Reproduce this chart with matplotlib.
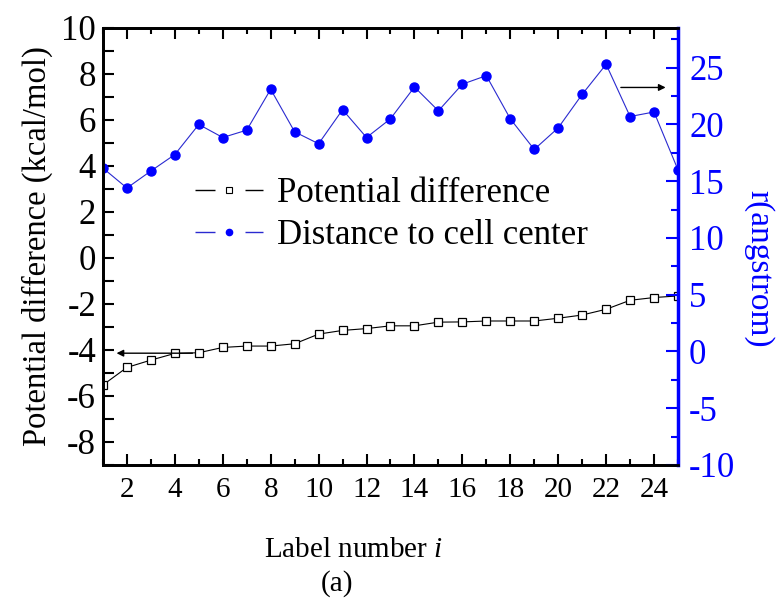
import numpy as np
import matplotlib
matplotlib.use("Agg")
import matplotlib.pyplot as plt
from matplotlib.lines import Line2D
from matplotlib.ticker import MultipleLocator

plt.rcParams['font.family'] = ['Liberation Serif', 'DejaVu Serif']
plt.rcParams['mathtext.fontset'] = 'custom'
plt.rcParams['mathtext.it'] = 'Liberation Serif:italic'
plt.rcParams['lines.scale_dashes'] = False
plt.rcParams['axes.unicode_minus'] = False

label_no = np.arange(1, 26)
pot_diff = [-5.52, -4.76, -4.44, -4.15, -4.12, -3.89, -3.83, -3.83, -3.73, -3.31,
            -3.15, -3.07, -2.95, -2.95, -2.79, -2.78, -2.74, -2.74, -2.74, -2.62,
            -2.48, -2.23, -1.84, -1.72, -1.65]
dist_center = [16.15, 14.4, 15.9, 17.35, 20.0, 18.85, 19.5, 23.1, 19.35, 18.3,
               21.3, 18.85, 20.5, 23.3, 21.2, 23.55, 24.3, 20.5, 17.8, 19.7,
               22.65, 25.3, 20.7, 21.1, 16.0]

blue = '#0000ff'

fig = plt.figure(figsize=(7.76, 6.03), dpi=100)
ax = fig.add_axes([0.1327, 0.2289, 0.741, 0.7247])
ax2 = ax.twinx()

ax.plot(label_no, pot_diff, color='black', lw=0.8, marker='s', ms=5.5,
        mfc='white', mec='black', mew=0.9)
ax2.plot(label_no, dist_center, color='#2a2ad0', lw=0.8, marker='o', ms=6.5,
         mfc=blue, mec=blue)

ax.set_xlim(1, 25)
ax.set_ylim(-9, 10)
ax2.set_ylim(-10, 28.5)

ax.xaxis.set_major_locator(MultipleLocator(2))
ax.xaxis.set_minor_locator(MultipleLocator(1))
ax.yaxis.set_major_locator(MultipleLocator(2))
ax.yaxis.set_minor_locator(MultipleLocator(1))
ax2.yaxis.set_major_locator(MultipleLocator(5))
ax2.yaxis.set_minor_locator(MultipleLocator(2.5))

ax.tick_params(axis='x', which='both', direction='in', top=True, labelsize=21, pad=9)
ax.tick_params(axis='x', which='major', length=8, width=1.5)
ax.tick_params(axis='x', which='minor', length=4, width=1.5)
ax.tick_params(axis='y', which='both', direction='in', right=False, labelsize=25,
               length=8, width=1.5, pad=5)
ax2.tick_params(axis='y', which='major', direction='in', length=9, width=1.5,
                colors=blue, labelsize=25, pad=8)
ax2.tick_params(axis='y', which='minor', direction='in', length=5, width=1.5, colors=blue)

for s in ['left', 'bottom', 'top']:
    ax.spines[s].set_linewidth(2)
ax2.spines['right'].set_color(blue)
ax2.spines['right'].set_linewidth(2.5)
for s in ['left', 'bottom', 'top']:
    ax2.spines[s].set_linewidth(2)
ax.spines['right'].set_visible(False)

ax.set_ylabel('Potential difference (kcal/mol)', fontsize=23.5, labelpad=6)
ax2.set_ylabel('r(angstrom)', fontsize=24, color=blue, rotation=270, va='center')
ax2.yaxis.set_label_coords(1.14, 0.45)

fig.text(0.455, 0.088, 'Label number $i$', fontsize=21, ha='center', va='center')
fig.text(0.434, 0.032, '(a)', fontsize=21, ha='center', va='center')

# arrows pointing to the axis of each series
ax.annotate('', xy=(1.45, -4.14), xytext=(4.85, -4.14),
            arrowprops=dict(arrowstyle='-|>', color='black', lw=1, mutation_scale=10))
ax2.annotate('', xy=(24.6, 23.26), xytext=(22.5, 23.26),
             arrowprops=dict(arrowstyle='-|>', color='black', lw=1, mutation_scale=10))

# legend handles: line, gap, marker, gap, line
h1 = Line2D([], [], color='black', lw=1, linestyle=(0, (14.4, 21.6)), marker='s',
            ms=4, mfc='white', mec='black', mew=0.8)
h2 = Line2D([], [], color='#2a2ad0', lw=1, linestyle=(0, (14.4, 21.6)), marker='o',
            ms=4.5, mfc=blue, mec=blue)
ax2.legend([h1, h2], ['Potential difference', 'Distance to cell center'],
           loc='upper left', bbox_to_anchor=(0.251, 0.706), bbox_transform=fig.transFigure,
           frameon=False, fontsize=25, handlelength=1.96, handletextpad=0.4,
           labelspacing=0.25, borderpad=0, borderaxespad=0)

fig.savefig('out.png', dpi=100)
